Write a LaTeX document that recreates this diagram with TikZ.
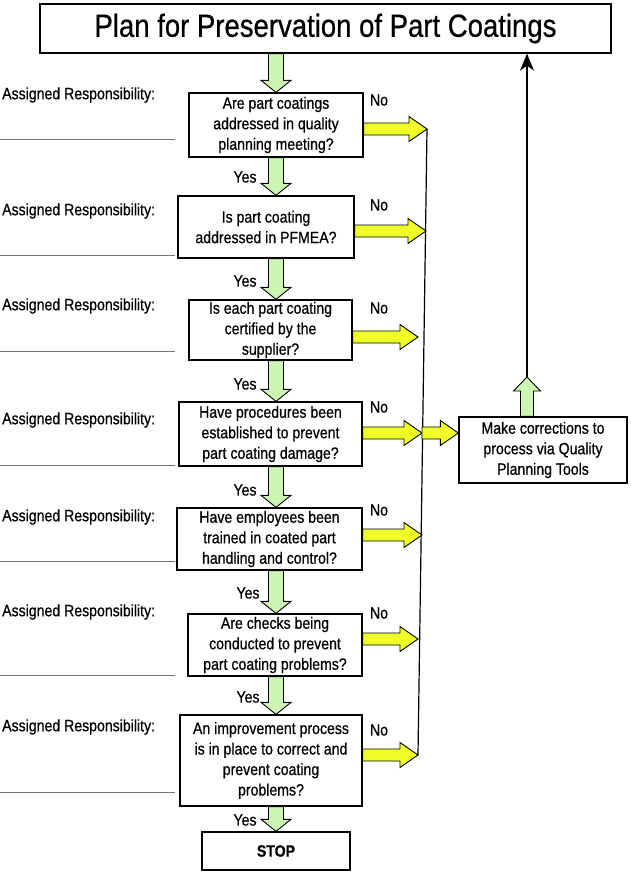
\documentclass[tikz,border=0pt]{standalone}
\usepackage{fontspec}
\setmainfont{Liberation Sans}[FakeStretch=0.86, FakeBold=0.6]
\usetikzlibrary{calc,arrows.meta}
\definecolor{yel}{RGB}{240,255,40}
\definecolor{grn}{RGB}{205,245,180}
\tikzset{
  qbox/.style={draw, line width=1.3pt, fill=white, align=center, inner sep=0pt,
    font=\fontsize{16.4}{20.5}\selectfont},
  lbl/.style={font=\fontsize{16.4}{20}\selectfont, inner sep=0pt},
  resp/.style={lbl, anchor=west},
  fatline/.style={draw=black, line width=0.9pt, line join=miter},
  blank/.style={draw=black!55, line width=0.9pt},
  spineline/.style={draw=black, line width=1.2pt},
}
\newcommand\fatdown[2]{%
  \draw[fatline, fill=grn] let \p1=(#1), \p2=(#2) in
    ({\x1-7.5pt},\y1) -- ({\x1-7.5pt},{\y2+12pt}) -- ({\x1-15pt},{\y2+12pt}) --
    (\x1,\y2) -- ({\x1+15pt},{\y2+12pt}) -- ({\x1+7.5pt},{\y2+12pt}) --
    ({\x1+7.5pt},\y1) -- cycle;}
\newcommand\fatup[2]{%
  \draw[fatline, fill=grn] let \p1=(#1), \p2=(#2) in
    ({\x1-6.5pt},\y1) -- ({\x1-6.5pt},{\y2-14pt}) -- ({\x1-13.5pt},{\y2-14pt}) --
    (\x1,\y2) -- ({\x1+13.5pt},{\y2-14pt}) -- ({\x1+6.5pt},{\y2-14pt}) --
    ({\x1+6.5pt},\y1) -- cycle;}
\newcommand\fatright[2]{%
  \draw[fatline, fill=yel] let \p1=(#1), \p2=(#2) in
    (\x1,{\y1+6pt}) -- ({\x2-18pt},{\y1+6pt}) -- ({\x2-18pt},{\y1+12.5pt}) --
    (\x2,\y1) -- ({\x2-18pt},{\y1-12.5pt}) -- ({\x2-18pt},{\y1-6pt}) --
    (\x1,{\y1-6pt}) -- cycle;}
\begin{document}
\begin{tikzpicture}[x=1pt, y=-1pt]
\useasboundingbox (0,0) rectangle (631,873);

% title
\node[qbox, minimum width=571pt, minimum height=49pt,
  font=\fontsize{32}{36}\selectfont] (title) at (325.5,28.5)
  {Plan for Preservation of Part Coatings};

% question boxes
\node[qbox, minimum width=174pt, minimum height=64pt] (b1) at (276,125)
  {Are part coatings\\addressed in quality\\planning meeting?};
\node[qbox, minimum width=176pt, minimum height=62pt] (b2) at (266,227)
  {Is part coating\\addressed in PFMEA?};
\node[qbox, minimum width=163pt, minimum height=60pt] (b3) at (270.5,330)
  {Is each part coating\\certified by the\\supplier?};
\node[qbox, minimum width=183pt, minimum height=64pt] (b4) at (270.5,434)
  {Have procedures been\\established to prevent\\part coating damage?};
\node[qbox, minimum width=185pt, minimum height=62pt] (b5) at (269.5,539)
  {Have employees been\\trained in coated part\\handling and control?};
\node[qbox, minimum width=174pt, minimum height=62pt] (b6) at (275,645)
  {Are checks being\\conducted to prevent\\part coating problems?};
\node[qbox, minimum width=182pt, minimum height=91pt] (b7) at (271,760.5)
  {An improvement process\\is in place to correct and\\prevent coating\\problems?};
\node[qbox, minimum width=148pt, minimum height=38pt,
  font=\fontsize{16.4}{20}\selectfont\bfseries] (stop) at (276,851) {STOP};
\node[qbox, minimum width=168pt, minimum height=66pt] (corr) at (543,450)
  {Make corrections to\\process via Quality\\Planning Tools};

% assigned responsibility labels and blank lines
\node[resp] (r1) at (2,95) {Assigned Responsibility:};
\node[resp] (r2) at (2,211) {Assigned Responsibility:};
\node[resp] (r3) at (2,306) {Assigned Responsibility:};
\node[resp] (r4) at (2,420) {Assigned Responsibility:};
\node[resp] (r5) at (2,517) {Assigned Responsibility:};
\node[resp] (r6) at (2,612) {Assigned Responsibility:};
\node[resp] (r7) at (2,727) {Assigned Responsibility:};
\draw[blank] (0,139) -- (175,139);
\draw[blank] (0,255) -- (175,255);
\draw[blank] (0,351) -- (175,351);
\draw[blank] (0,465) -- (175,465);
\draw[blank] (0,561) -- (175,561);
\draw[blank] (0,675) -- (175,675);
\draw[blank] (0,792) -- (175,792);

% Yes / No labels
\node[lbl] (y1) at (245,177) {Yes};
\node[lbl] (y2) at (245,281) {Yes};
\node[lbl] (y3) at (245,384) {Yes};
\node[lbl] (y4) at (245,490) {Yes};
\node[lbl] (y5) at (248,593) {Yes};
\node[lbl] (y6) at (248,697) {Yes};
\node[lbl] (y7) at (245,820) {Yes};
\node[lbl] (no1) at (379,100) {No};
\node[lbl] (no2) at (379,205) {No};
\node[lbl] (no3) at (379,308) {No};
\node[lbl] (no4) at (379,407) {No};
\node[lbl] (no5) at (379,510) {No};
\node[lbl] (no6) at (379,613) {No};
\node[lbl] (no7) at (379,730) {No};

% coordinates
\coordinate (spine) at (276,0);
\coordinate (n1) at (427,129);
\coordinate (n2) at (426,231);
\coordinate (n3) at (418,337);
\coordinate (n4) at (422,433);
\coordinate (n5) at (422,535);
\coordinate (n6) at (418,639);
\coordinate (n7) at (418,755);
\coordinate (up) at (527,377);

% green down arrows
\fatdown{title.south -| spine}{b1.north}
\fatdown{b1.south -| spine}{b2.north}
\fatdown{b2.south -| spine}{b3.north}
\fatdown{b3.south -| spine}{b4.north}
\fatdown{b4.south -| spine}{b5.north}
\fatdown{b5.south -| spine}{b6.north}
\fatdown{b6.south -| spine}{b7.north}
\fatdown{b7.south -| spine}{stop.north}

% collector line
\draw[spineline] (n1) -- (n7);

% yellow No arrows
\fatright{b1.east |- n1}{n1}
\fatright{b2.east |- n2}{n2}
\fatright{b3.east |- n3}{n3}
\fatright{b4.east |- n4}{n4}
\fatright{b5.east |- n5}{n5}
\fatright{b6.east |- n6}{n6}
\fatright{b7.east |- n7}{n7}
\fatright{n4}{corr.west |- n4}

% back to the top
\fatup{corr.north -| up}{up}
\draw[line width=1.3pt, -{Stealth[length=17pt, width=14pt, inset=5pt]}]
  (up) -- (title.south -| up);
\end{tikzpicture}
\end{document}
